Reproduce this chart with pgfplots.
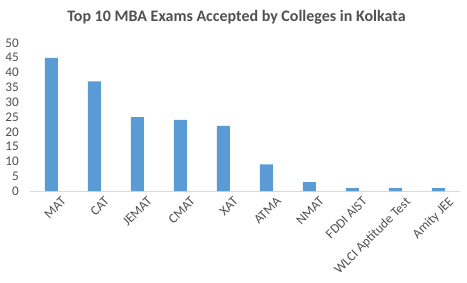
\documentclass[border=0pt]{standalone}
\usepackage{pgfplots}
\pgfplotsset{compat=1.18}
\usepackage{fontspec}
\setmainfont{Carlito}
\definecolor{barblue}{RGB}{91,155,213}
\definecolor{txtgray}{RGB}{80,80,80}
\definecolor{axgray}{RGB}{217,217,217}
\begin{document}
\begin{tikzpicture}[x=1pt,y=1pt]
\path[use as bounding box] (0,0) rectangle (467,282);
\node[font=\bfseries\fontsize{16}{19}\selectfont, text=txtgray] at (236.5,265) {Top 10 MBA Exams Accepted by Colleges in Kolkata};
\begin{axis}[
  at={(30pt,91pt)}, anchor=south west,
  scale only axis, width=430pt, height=148pt,
  xmin=-0.5, xmax=9.5, ymin=0, ymax=50,
  ytick={0,5,...,50},
  xtick={0,...,9},
  xticklabels={MAT,CAT,JEMAT,CMAT,XAT,ATMA,NMAT,FDDI AIST,WLCI Aptitude Test,Amity JEE},
  ticklabel style={font=\fontsize{13.2}{15}\selectfont, text=txtgray},
  xticklabel style={rotate=45, anchor=north east, inner sep=0pt, xshift=3pt, yshift=-10pt},
  yticklabel style={anchor=east, inner sep=0pt, xshift=-11pt},
  /pgf/number format/assume math mode=true,
  axis lines=left,
  y axis line style={draw=none},
  x axis line style={axgray, line width=0.8pt, -},
  major tick length=0pt,
  ybar, bar width=13pt,
  clip=false,
]
\addplot[fill=barblue, draw=none] coordinates {(0,45) (1,37) (2,25) (3,24) (4,22) (5,9) (6,3) (7,1) (8,1) (9,1)};
\end{axis}
\end{tikzpicture}
\end{document}
